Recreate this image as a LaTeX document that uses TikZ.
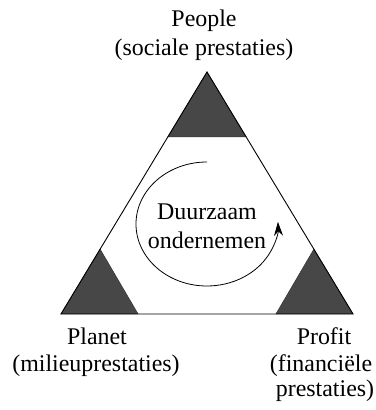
\documentclass[tikz,border=0pt]{standalone}
\usepackage{fontspec}
\setmainfont{Liberation Serif}
\usetikzlibrary{arrows.meta,calc}
\begin{document}
\begin{tikzpicture}[x=1bp,y=1bp,
  lbl/.style={anchor=base,inner sep=0pt,font=\fontsize{24}{30}\selectfont},
  edge/.style={line width=0.9bp,black},
  corner/.style={fill=black!72,draw=black!80,line width=0.5bp}]
\useasboundingbox (0,0) rectangle (376,410);
\coordinate (A) at (207,338);
\coordinate (B) at (61,96);
\coordinate (C) at (353,96);
% shaded corner triangles
\fill[corner] (A) -- ($(A)!0.268!(B)$) -- ($(A)!0.268!(C)$) -- cycle;
\fill[corner] (B) -- ($(B)!0.268!(A)$) -- ($(B)!0.264!(C)$) -- cycle;
\fill[corner] (C) -- ($(C)!0.268!(A)$) -- ($(C)!0.264!(B)$) -- cycle;
% outer triangle
\draw[edge,line join=miter] (A) -- (B) -- (C) -- cycle;
% cycle arrow
\coordinate (S) at (207,248);
\draw[line width=0.8bp,-{Stealth[length=14bp,width=9bp]}] (S) arc[start angle=90,end angle=362,x radius=71,y radius=62];
% texts
\node[lbl] (d1) at (207,191) {Duurzaam};
\node[lbl] (d2) at (207,161.7) {ondernemen};
\node[lbl] (p1) at (204,384) {People};
\node[lbl] (p2) at (204,355) {(sociale prestaties)};
\node[lbl] (l1) at (97,66) {Planet};
\node[lbl] (l2) at (96,38.3) {(milieuprestaties)};
\node[lbl] (r1) at (324,66) {Profit};
\node[lbl] (r2) at (321,38.3) {(financiële};
\node[lbl] (r3) at (325,13.3) {prestaties)};
\end{tikzpicture}
\end{document}
